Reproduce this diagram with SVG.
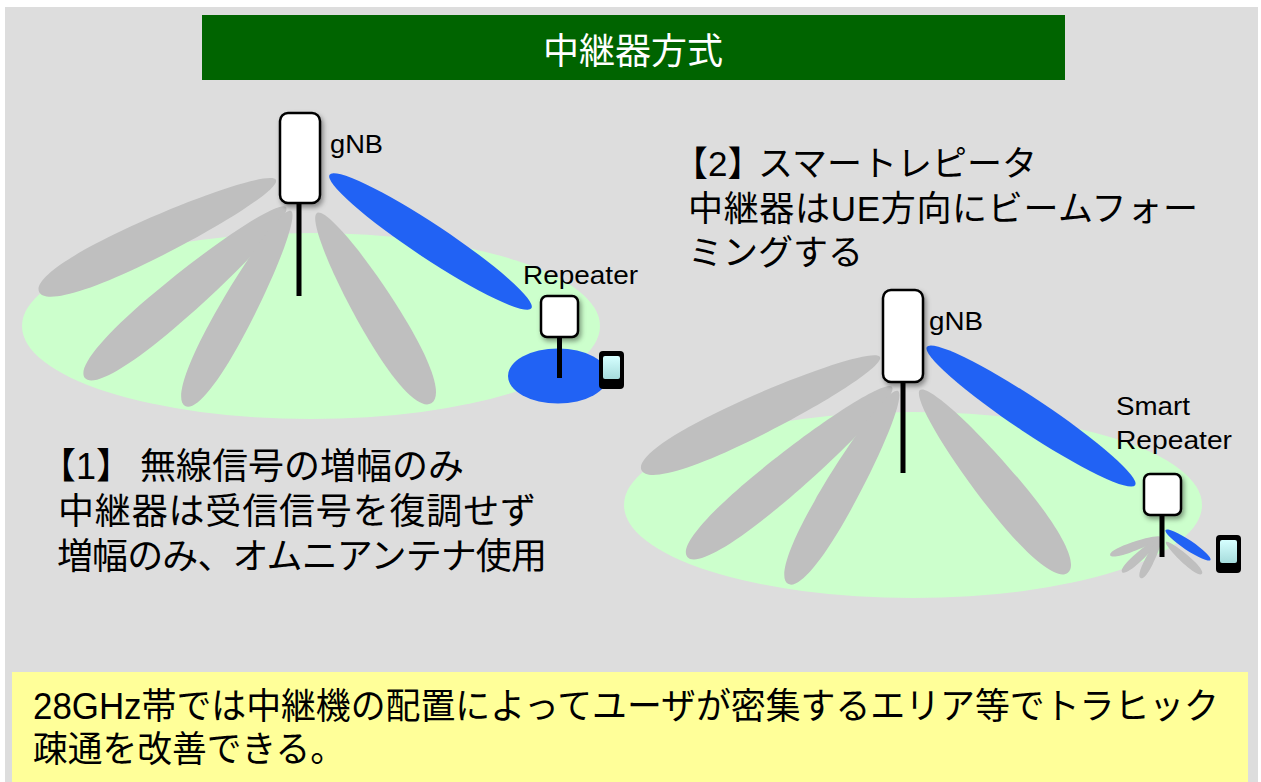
<svg xmlns="http://www.w3.org/2000/svg" width="1261" height="782" viewBox="0 0 1261 782">
  <defs>
    <style>
      .jp{font-family:"Liberation Sans","Noto Sans CJK JP",sans-serif;fill:#000}
      .lbl{font-family:"Liberation Sans","Noto Sans CJK JP",sans-serif;font-size:25px;fill:#000}
      .cov{fill:#ccffcc}
      .side{fill:#bfbfbf}
      .main{fill:#2162f4}
      .pole{stroke:#000;stroke-width:5;fill:none}
      .ant{fill:#fff;stroke:#000;stroke-width:2.5}
      .ue{fill:#000}
      .scr{fill:url(#scr)}
    </style>
    <!-- beam lobe: base at (0,0), tip at (1,0), half-width 1 -->
    <path id="lobe" d="M0,0 C0,-0.5 0.3,-1 0.62,-1 C0.86,-1 1,-0.62 1,0 C1,0.62 0.86,1 0.62,1 C0.3,1 0,0.5 0,0 Z"/>
    <linearGradient id="scr" x1="0" y1="0" x2="0" y2="1">
      <stop offset="0" stop-color="#d6ffff"/>
      <stop offset="1" stop-color="#a6dcdc"/>
    </linearGradient>
    <filter id="shadow" x="-40%" y="-30%" width="180%" height="160%">
      <feDropShadow dx="2" dy="3" stdDeviation="2.5" flood-color="#000" flood-opacity="0.4"/>
    </filter>
    <filter id="soft" x="-20%" y="-20%" width="140%" height="140%">
      <feGaussianBlur stdDeviation="0.7"/>
    </filter>
  </defs>

  <!-- page background -->
  <rect x="0" y="0" width="1261" height="782" fill="#ffffff"/>
  <rect x="5" y="7" width="1253" height="775" fill="#dddddd"/>

  <!-- title bar -->
  <g id="title">
    <rect x="202" y="15" width="863" height="65" fill="#006400"/>
    <text x="633" y="64" text-anchor="middle" class="jp" style="font-size:36px;fill:#fff">中継器方式</text>
  </g>

  <!-- coverage areas -->
  <g id="coverage">
    <ellipse class="cov" cx="311" cy="326" rx="289" ry="93"/>
    <ellipse class="cov" cx="913" cy="505" rx="289" ry="93"/>
  </g>

  <!-- radio beams -->
  <g id="beams">
    <!-- scene 1: gNB beams -->
    <use href="#lobe" class="side" transform="translate(276,180) rotate(154.7) scale(262,20)"/>
    <use href="#lobe" class="side" transform="translate(286,207) rotate(139.6) scale(264,20)"/>
    <use href="#lobe" class="side" transform="translate(291,211) rotate(118.5) scale(222,18)"/>
    <use href="#lobe" class="side" transform="translate(317,213) rotate(59) scale(222,21)"/>
    <ellipse class="main" cx="430.5" cy="241.5" rx="121" ry="17" transform="rotate(33.5 430.5 241.5)"/>
    <!-- scene 1: omni coverage of the repeater -->
    <ellipse class="main" cx="558" cy="376" rx="50" ry="27.5"/>

    <!-- scene 2: gNB beams -->
    <use href="#lobe" class="side" transform="translate(880,357) rotate(154.6) scale(264,20)"/>
    <use href="#lobe" class="side" transform="translate(892,387) rotate(140.3) scale(266,20)"/>
    <use href="#lobe" class="side" transform="translate(898,391) rotate(119.7) scale(222,18)"/>
    <use href="#lobe" class="side" transform="translate(920,390) rotate(51) scale(235,21)"/>
    <ellipse class="main" cx="1031" cy="416" rx="125" ry="17" transform="rotate(33.6 1031 416)"/>
    <!-- scene 2: smart repeater beams -->
    <g filter="url(#soft)">
      <use href="#lobe" class="side" transform="translate(1160,537) rotate(160) scale(53,4.5)"/>
      <use href="#lobe" class="side" transform="translate(1160,538) rotate(138) scale(51,4.5)"/>
      <use href="#lobe" class="side" transform="translate(1161,538) rotate(117) scale(45,4.5)"/>
      <use href="#lobe" class="side" transform="translate(1166,542) rotate(41.6) scale(48,4.5)"/>
    </g>
    <ellipse class="main" cx="1188" cy="545" rx="27" ry="5" transform="rotate(33.7 1188 545)"/>
  </g>

  <!-- scene 1 nodes -->
  <g id="gnb-1">
    <line class="pole" x1="299" y1="200" x2="299" y2="296"/>
    <rect class="ant" x="280" y="113" width="40" height="90" rx="8" filter="url(#shadow)"/>
    <text class="lbl" x="330" y="153" textLength="53" lengthAdjust="spacingAndGlyphs">gNB</text>
  </g>
  <g id="repeater-1">
    <line class="pole" x1="559.5" y1="335" x2="559.5" y2="378"/>
    <rect class="ant" x="541" y="296" width="37" height="41" rx="6" filter="url(#shadow)"/>
    <text class="lbl" x="523" y="284" textLength="115" lengthAdjust="spacingAndGlyphs">Repeater</text>
  </g>
  <g id="ue-1">
    <rect class="ue" x="599" y="351" width="25" height="38" rx="4"/>
    <rect class="scr" x="603" y="356" width="17" height="23" rx="2"/>
  </g>

  <!-- scene 2 nodes -->
  <g id="gnb-2">
    <line class="pole" x1="903" y1="380" x2="903" y2="473"/>
    <rect class="ant" x="883" y="290" width="40" height="92" rx="8" filter="url(#shadow)"/>
    <text class="lbl" x="929" y="330" textLength="54" lengthAdjust="spacingAndGlyphs">gNB</text>
  </g>
  <g id="repeater-2">
    <line class="pole" x1="1162" y1="513" x2="1162" y2="557"/>
    <rect class="ant" x="1144" y="474" width="37" height="41" rx="6" filter="url(#shadow)"/>
    <text class="lbl" x="1116" y="415" textLength="74" lengthAdjust="spacingAndGlyphs">Smart</text>
    <text class="lbl" x="1116" y="449" textLength="116" lengthAdjust="spacingAndGlyphs">Repeater</text>
  </g>
  <g id="ue-2">
    <rect class="ue" x="1216" y="535" width="25" height="38" rx="4"/>
    <rect class="scr" x="1220" y="540" width="17" height="23" rx="2"/>
  </g>

  <!-- descriptions -->
  <g id="desc-1" class="jp" style="font-size:36px">
    <text y="479"><tspan x="40">【1】 </tspan><tspan x="140">無線信号の増幅のみ</tspan></text>
    <text x="58" y="524" textLength="478" lengthAdjust="spacing">中継器は受信信号を復調せず</text>
    <text x="57" y="569" textLength="490" lengthAdjust="spacing">増幅のみ、オムニアンテナ使用</text>
  </g>
  <g id="desc-2" class="jp" style="font-size:35px">
    <text y="176"><tspan x="673">【2】</tspan><tspan x="758">スマートレピータ</tspan></text>
    <text x="688" y="221" textLength="510" lengthAdjust="spacing">中継器はUE方向にビームフォー</text>
    <text x="688" y="265">ミングする</text>
  </g>

  <!-- summary -->
  <g id="summary">
    <rect x="12" y="672" width="1236" height="110" fill="#ffff99"/>
    <text class="jp" style="font-size:36px" x="33" y="719" textLength="1186" lengthAdjust="spacingAndGlyphs">28GHz帯では中継機の配置によってユーザが密集するエリア等でトラヒック</text>
    <text class="jp" style="font-size:36px" x="33" y="762" textLength="312" lengthAdjust="spacingAndGlyphs">疎通を改善できる。</text>
  </g>
</svg>
